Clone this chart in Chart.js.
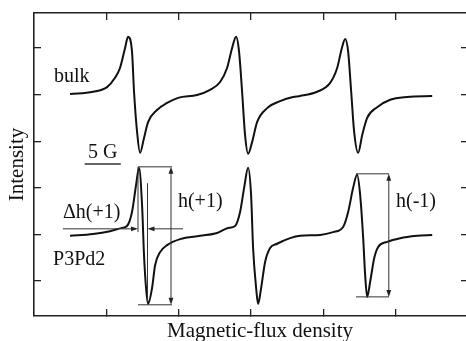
<!DOCTYPE html>
<html>
<head>
<meta charset="utf-8">
<script src="https://cdn.jsdelivr.net/npm/chart.js@4/dist/chart.umd.min.js"></script>
<style>
  html, body { margin: 0; padding: 0; background: #fff; overflow: hidden; }
  #wrap { width: 470px; height: 341px; }
</style>
</head>
<body>
<div id="wrap"><canvas id="esr" width="470" height="341"></canvas></div>
<script>
// Field in gauss (5 G scale bar), intensity in arbitrary units
const bulkField = [4.98, 8.16, 10.10, 11.20, 11.89, 12.59, 13.00, 13.55, 13.83, 14.25,
  14.66, 15.21, 15.77, 17.01, 18.40, 19.92, 22.54, 24.34, 25.73, 26.69,
  27.39, 27.94, 28.35, 28.77, 29.18, 29.60, 30.15, 30.84, 32.23, 34.02,
  35.82, 36.79, 39.14, 40.94, 41.91, 42.60, 43.02, 43.43, 43.85, 44.26,
  44.81, 45.37, 46.06, 47.44, 49.24, 51.59, 55.05];
const bulkSignal = [4.76, 4.81, 4.91, 5.11, 5.32, 5.75, 5.99, 5.67, 4.81, 3.95,
  3.50, 3.82, 4.16, 4.42, 4.57, 4.68, 4.74, 4.85, 5.02, 5.32,
  5.75, 5.99, 5.67, 4.81, 3.88, 3.48, 3.73, 4.16, 4.46, 4.61,
  4.70, 4.72, 4.81, 5.00, 5.32, 5.77, 5.94, 5.67, 4.81, 3.95,
  3.50, 3.88, 4.25, 4.48, 4.64, 4.70, 4.72];

const p3pd2Field = [4.98, 8.16, 10.51, 12.17, 12.86, 13.55, 14.11, 14.52, 14.94, 15.21,
  15.49, 15.77, 16.32, 16.74, 17.43, 18.40, 20.19, 22.96, 25.31, 26.83,
  27.80, 28.49, 29.05, 29.60, 30.01, 30.29, 30.71, 30.98, 31.40, 31.95,
  32.64, 33.61, 35.41, 36.79, 39.56, 41.36, 42.74, 43.43, 44.12, 44.67,
  45.09, 45.51, 45.78, 46.06, 46.47, 47.03, 47.58, 48.82, 50.62, 52.97, 55.05];
const p3pd2Signal = [1.72, 1.76, 1.82, 1.89, 1.93, 2.23, 2.81, 3.18, 2.38, 1.31,
  0.60, 0.26, 0.60, 1.09, 1.37, 1.52, 1.65, 1.72, 1.78, 1.89,
  1.93, 2.23, 2.75, 3.18, 2.60, 1.46, 0.60, 0.26, 0.60, 1.16,
  1.46, 1.55, 1.67, 1.72, 1.74, 1.80, 1.91, 2.23, 2.75, 3.03,
  2.60, 1.67, 0.88, 0.41, 0.73, 1.24, 1.48, 1.59, 1.67, 1.72, 1.74];

const xTicks = [10, 20, 30, 40, 50];
const yTicks = [0.75, 1.75, 2.75, 3.75, 4.75, 5.75];

const SERIF = '"Liberation Serif", "Times New Roman", serif';
const INK = '#111';

function toPoints(xs, ys) {
  return xs.map((v, i) => ({ x: v, y: ys[i] }));
}

// inward tick marks on all four sides, no labels
function frameAxis(position, axis, size, ticks) {
  return {
    type: 'linear',
    position: position,
    axis: axis,
    min: axis === 'x' ? 0 : 0,
    max: axis === 'x' ? 60 : 6.5,
    afterBuildTicks: scale => { scale.ticks = ticks.map(v => ({ value: v })); },
    afterFit: scale => {
      if (axis === 'x') scale.height = size; else scale.width = size;
    },
    ticks: { display: false },
    grid: { drawOnChartArea: false, drawTicks: true, tickLength: -7, color: '#222', lineWidth: 1.3 },
    border: { display: true, color: '#222', width: 1.6 }
  };
}

function arrowHead(ctx, x, y, dx, dy) {
  const len = 7, half = 2.4;
  ctx.beginPath();
  ctx.moveTo(x, y);
  ctx.lineTo(x - dx * len - dy * half, y - dy * len + dx * half);
  ctx.lineTo(x - dx * len + dy * half, y - dy * len - dx * half);
  ctx.closePath();
  ctx.fill();
}

function seg(ctx, x1, y1, x2, y2) {
  ctx.beginPath();
  ctx.moveTo(x1, y1);
  ctx.lineTo(x2, y2);
  ctx.stroke();
}

// labels and measuring brackets, placed in data units
const notes = {
  plugin: {
    id: 'esrNotes',
    afterDatasetsDraw(chart) {
      const { ctx, chartArea } = chart;
      const sx = chart.scales.x, sy = chart.scales.y;
      const px = v => sx.getPixelForValue(v);
      const py = v => sy.getPixelForValue(v);
      ctx.save();
      ctx.strokeStyle = '#333';
      ctx.fillStyle = '#222';

      // 5 G scale bar
      ctx.lineWidth = 1.5;
      seg(ctx, px(7), py(3.26), px(12), py(3.26));

      ctx.lineWidth = 1;
      // h(+1) bracket
      seg(ctx, px(14.38), py(3.20), px(19.08), py(3.20));
      seg(ctx, px(14.38), py(0.24), px(19.08), py(0.24));
      seg(ctx, px(18.94), py(3.20) + 3, px(18.94), py(0.24) - 3);
      arrowHead(ctx, px(18.94), py(3.20), 0, -1);
      arrowHead(ctx, px(18.94), py(0.24), 0, 1);

      // delta h(+1): marker lines and inward arrows
      seg(ctx, px(14.38), py(3.20), px(14.38), py(1.80));
      seg(ctx, px(15.69), py(2.85), px(15.69), py(0.30));
      seg(ctx, px(4.0), py(1.87), px(14.38) - 3, py(1.87));
      arrowHead(ctx, px(14.38), py(1.87), 1, 0);
      seg(ctx, px(20.6), py(1.87), px(15.69) + 3, py(1.87));
      arrowHead(ctx, px(15.69), py(1.87), -1, 0);

      // h(-1) bracket
      seg(ctx, px(44.52), py(3.05), px(49.08), py(3.05));
      seg(ctx, px(44.52), py(0.41), px(49.08), py(0.41));
      seg(ctx, px(49.05), py(3.05) + 3, px(49.05), py(0.41) - 3);
      arrowHead(ctx, px(49.05), py(3.05), 0, -1);
      arrowHead(ctx, px(49.05), py(0.41), 0, 1);

      // text
      ctx.fillStyle = INK;
      ctx.textBaseline = 'alphabetic';
      ctx.font = '20px ' + SERIF;
      ctx.textAlign = 'left';
      ctx.fillText('bulk', px(2.77), py(5.02));
      ctx.fillText('P3Pd2', px(2.63), py(1.09));
      ctx.fillText('\u0394h(+1)', px(4.0), py(2.10));
      ctx.fillText('h(+1)', px(19.9), py(2.34));
      ctx.fillText('h(-1)', px(50.05), py(2.34));
      ctx.textAlign = 'center';
      ctx.fillText('5 G', px(9.5), py(3.39));

      // axis titles
      ctx.font = '21px ' + SERIF;
      ctx.fillText('Magnetic-flux density', chartArea.left + 226, chartArea.bottom + 21);
      ctx.translate(chartArea.left - 17, (chartArea.top + chartArea.bottom) / 2);
      ctx.rotate(-Math.PI / 2);
      ctx.textBaseline = 'middle';
      ctx.fillText('Intensity', 0, 0);
      ctx.restore();
    }
  }
};

const lineStyle = {
  showLine: true,
  borderColor: INK,
  borderWidth: 2,
  pointRadius: 0,
  cubicInterpolationMode: 'monotone',
  fill: false
};

new Chart(document.getElementById('esr'), {
  type: 'scatter',
  data: {
    datasets: [
      Object.assign({ label: 'bulk', data: toPoints(bulkField, bulkSignal) }, lineStyle),
      Object.assign({ label: 'P3Pd2', data: toPoints(p3pd2Field, p3pd2Signal) }, lineStyle)
    ]
  },
  options: {
    responsive: false,
    animation: false,
    devicePixelRatio: 1,
    layout: { padding: 0 },
    scales: {
      x: frameAxis('bottom', 'x', 25, xTicks),
      xTop: frameAxis('top', 'x', 13, xTicks),
      y: frameAxis('left', 'y', 34, yTicks),
      yRight: frameAxis('right', 'y', 2, yTicks)
    },
    plugins: {
      legend: { display: false },
      tooltip: { enabled: false }
    }
  },
  plugins: [notes.plugin]
});
</script>
</body>
</html>
